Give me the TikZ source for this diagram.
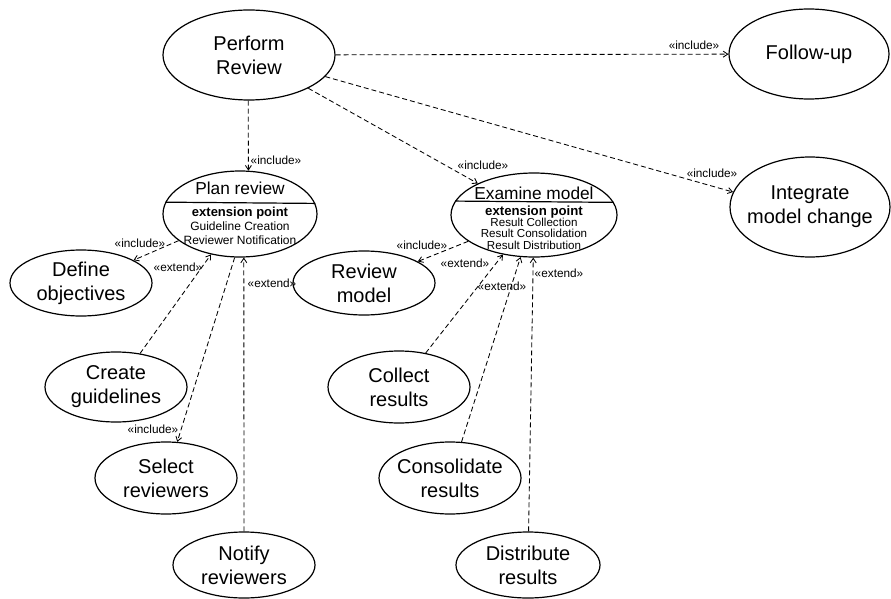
\documentclass[tikz,border=0pt]{standalone}
\usepackage{fontspec}
\setmainfont{Liberation Sans}
\usetikzlibrary{arrows.meta,shapes.geometric}

\begin{document}
\begin{tikzpicture}[x=1pt,y=-1pt,
  usecase/.style={ellipse,draw,line width=1.2pt,inner sep=0pt,inner xsep=-20pt,
    align=center,font=\fontsize{20}{24}\selectfont},
  dep/.style={dash pattern=on 5pt off 3pt,line width=0.85pt,
    -{Straight Barb[length=4.5pt,width=6pt]}},
  stereo/.style={font=\fontsize{11.8}{13}\selectfont,inner sep=0pt},
  title/.style={font=\fontsize{17.3}{20}\selectfont,inner sep=0pt},
]
\useasboundingbox (0,0) rectangle (891,599);

% use cases
\node[usecase,minimum width=172pt,minimum height=90pt]  (pr)  at (249,55)  {Perform\\Review};
\node[usecase,minimum width=160pt,minimum height=90pt]  (fu)  at (809,54)  {Follow-up};
\node[usecase,minimum width=154pt,minimum height=86pt]  (plan) at (240,214) {};
\node[usecase,minimum width=166pt,minimum height=84pt]  (ex)  at (534,215) {};
\node[usecase,minimum width=160pt,minimum height=100pt] (int) at (810,207) {Integrate\\model change};
\node[usecase,minimum width=142pt,minimum height=66pt]  (def) at (81,283)  {Define\\objectives};
\node[usecase,minimum width=142pt,minimum height=64pt]  (rev) at (364,283) {Review\\model};
\node[usecase,minimum width=142pt,minimum height=70pt]  (cg)  at (116,387) {Create\\guidelines};
\node[usecase,minimum width=142pt,minimum height=72pt]  (sel) at (166,478) {Select\\reviewers};
\node[usecase,minimum width=142pt,minimum height=66pt]  (nr)  at (244,565) {Notify\\reviewers};
\node[usecase,minimum width=142pt,minimum height=72pt]  (col) at (399,387) {Collect\\results};
\node[usecase,minimum width=142pt,minimum height=72pt]  (con) at (450,478) {Consolidate\\results};
\node[usecase,minimum width=144pt,minimum height=66pt]  (dis) at (528,565) {Distribute\\results};

% compartments of the use cases with extension points
\draw[line width=1.2pt] (plan.171.6) -- (plan.8.4);
\node[title] (plantitle) at (240,188) {Plan review};
\node[inner sep=0pt,align=center,font=\fontsize{12}{14}\selectfont] (planext) at (240,226)
  {{\fontsize{13}{14}\selectfont\bfseries extension point}\\Guideline Creation\\Reviewer Notification};

\draw[line width=1.2pt] (ex.170.66) -- (ex.9.34);
\node[title] (extitle) at (534,193) {Examine model};
\node[inner sep=0pt,align=center,font=\fontsize{11.6}{11.3}\selectfont] (exext) at (534,227.5)
  {{\fontsize{13.2}{11.3}\selectfont\bfseries extension point}\\Result Collection\\Result Consolidation\\Result Distribution};

% dependencies
\draw[dep] (pr.-91) -- (plan.79);
\draw[dep] (pr) -- (fu);
\draw[dep] (pr) -- (ex);
\draw[dep] (pr) -- (int.169);
\draw[dep] (plan) -- (def);
\draw[dep] (cg) -- (plan);
\draw[dep] (plan.-97) -- (sel);
\draw[dep] (nr.north) -- (plan.-85);
\draw[dep] (ex) -- (rev);
\draw[dep] (col) -- (ex);
\draw[dep] (con) -- (ex);
\draw[dep] (dis) -- (ex);

% stereotypes
\node[stereo] (s1)  at (276,160) {«include»};
\node[stereo] (s2)  at (694,45)  {«include»};
\node[stereo] (s3)  at (483,165) {«include»};
\node[stereo] (s4)  at (712,173) {«include»};
\node[stereo] (s5)  at (140,243) {«include»};
\node[stereo] (s6)  at (178,267) {«extend»};
\node[stereo] (s7)  at (153,429) {«include»};
\node[stereo] (s8)  at (272,283) {«extend»};
\node[stereo] (s9)  at (422,245) {«include»};
\node[stereo] (s10) at (465,263) {«extend»};
\node[stereo] (s11) at (502,286) {«extend»};
\node[stereo] (s12) at (559,273) {«extend»};
\end{tikzpicture}
\end{document}
